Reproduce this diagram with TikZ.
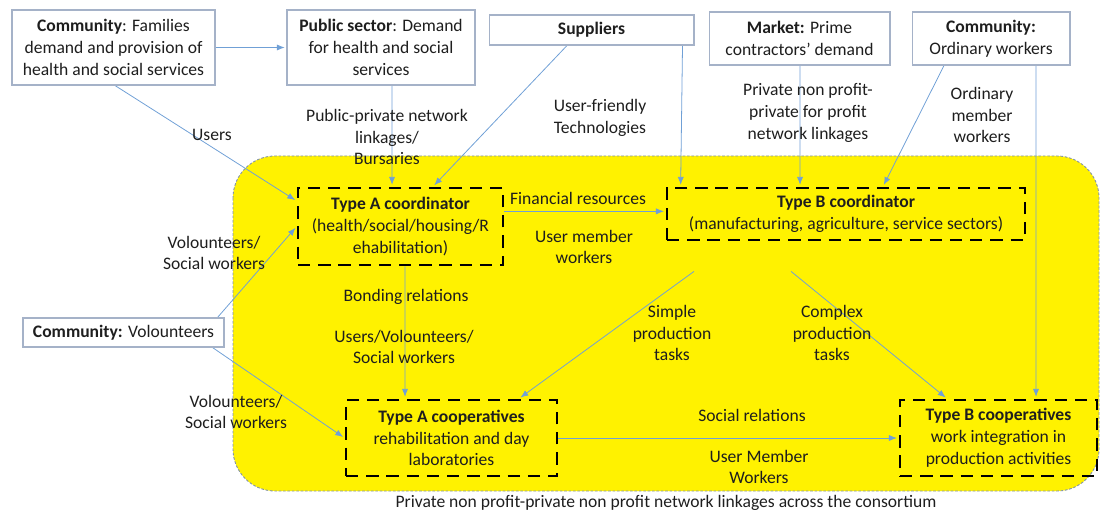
\documentclass[tikz,border=0pt]{standalone}
\usepackage{fontspec}
\setmainfont{Carlito}
\usetikzlibrary{arrows.meta,calc}
\pgfdeclarelayer{backlayer}
\pgfdeclarelayer{edgelayer}
\pgfdeclarelayer{nodelayer}
\pgfsetlayers{backlayer,edgelayer,nodelayer,main}
\definecolor{linkblue}{RGB}{112,160,214}
\definecolor{boxgrey}{RGB}{165,178,200}
\definecolor{rimgrey}{RGB}{128,145,170}
\definecolor{inkgrey}{RGB}{30,30,30}
\tikzstyle{link}=[draw=linkblue, line width=0.45pt, -{Latex[length=4.5pt,width=3.5pt]}, shorten >=1pt]
\tikzstyle{actor}=[rectangle, draw=boxgrey, fill=white, line width=0.6pt, align=center, inner sep=0pt]
\tikzstyle{unit}=[rectangle, draw=black, line width=1.6pt, dash pattern=on 7pt off 4.5pt, align=center, inner sep=0pt]
\tikzstyle{tag}=[align=center, inner sep=0pt]
\tikzstyle{zone}=[fill=yellow, draw=rimgrey, line width=0.5pt, dash pattern=on 1.5pt off 1pt, rounded corners=0.84cm]

\begin{document}
\begin{tikzpicture}[x=0.02cm, y=-0.02cm, every node/.style={font=\fontsize{10pt}{12.4pt}\selectfont, text=inkgrey}]
			\useasboundingbox (0,0) rectangle (1101,513);
			\begin{pgfonlayer}{backlayer}
			\draw [style=zone] (233,156) rectangle (1099,491);
			\end{pgfonlayer}
			\begin{pgfonlayer}{nodelayer}
			\node [style=actor, minimum width=4.06cm, minimum height=1.5cm] (families) at (113.5,47.5) {\textbf{Community}: Families\\demand and provision of\\health and social services};
			\node [style=actor, minimum width=3.76cm, minimum height=1.5cm] (public) at (381,47.5) {\textbf{Public sector}: Demand\\for health and social\\services};
			\node [style=actor, minimum width=4.1cm, minimum height=0.6cm] (suppliers) at (591.5,30) {\textbf{Suppliers}};
			\node [style=actor, minimum width=3.62cm, minimum height=1.06cm] (market) at (799.5,38.5) {\textbf{Market:} Prime\\contractors’ demand};
			\node [style=actor, minimum width=3.16cm, minimum height=1.06cm] (ordinary) at (991,38.5) {\textbf{Community:}\\Ordinary workers};
			\node [style=actor, minimum width=4.02cm, minimum height=0.58cm] (volbox) at (123.5,332.5) {\textbf{Community:} Volounteers};
			\node [style=unit, minimum width=4.1cm, minimum height=1.54cm] (coordA) at (400.5,226.5) {\textbf{Type A coordinator}\\(health/social/housing/R\\ehabilitation)};
			\node [style=unit, minimum width=7.16cm, minimum height=1.04cm] (coordB) at (846,214) {\textbf{Type B coordinator}\\(manufacturing, agriculture, service sectors)};
			\node [style=unit, minimum width=4.22cm, minimum height=1.52cm] (coopA) at (451.5,438) {\textbf{Type A cooperatives}\\rehabilitation and day\\laboratories};
			\node [style=unit, minimum width=3.94cm, minimum height=1.52cm] (coopB) at (998.5,438) {\textbf{Type B cooperatives}\\work integration in\\production activities};
			\node [style=tag] (users) at (212,135) {Users};
			\node [style=tag] (bursaries) at (387,137) {Public-private network\\linkages/\\Bursaries};
			\node [style=tag] (techno) at (600,118) {User-friendly\\Technologies};
			\node [style=tag] (linkages) at (808,113) {Private non profit-\\private for profit\\network linkages};
			\node [style=tag] (members) at (982,115) {Ordinary\\member\\workers};
			\node [style=tag] (finance) at (578,198) {Financial resources};
			\node [style=tag] (usermem) at (584,247) {User member\\workers};
			\node [style=tag] (volA) at (214,253) {Volounteers/\\Social workers};
			\node [style=tag] (bonding) at (406,297) {Bonding relations};
			\node [style=tag] (uservol) at (404,347) {Users/Volounteers/\\Social workers};
			\node [style=tag] (simple) at (672,333) {Simple\\production\\tasks};
			\node [style=tag] (complex) at (832,333) {Complex\\production\\tasks};
			\node [style=tag] (volB) at (236,412) {Volounteers/\\Social workers};
			\node [style=tag] (social) at (752,415) {Social relations};
			\node [style=tag] (usermemB) at (759,467) {User Member\\Workers};
			\node [style=tag] (caption) at (666,503) {Private non profit-private non profit network linkages across the consortium};
			\end{pgfonlayer}
			\begin{pgfonlayer}{edgelayer}
			\coordinate (fin) at ($(coordA.north east)!0.31!(coordA.south east)$);
			\draw [style=link] (families) to (public);
			\draw [style=link] ([xshift=0.03cm]families.south) to ($(coordA.north west)!0.18!(coordA.south west)$);
			\draw [style=link] ([xshift=0.22cm]public.south) to ([xshift=-0.17cm]coordA.north);
			\draw [style=link] ([xshift=-0.49cm]suppliers.south) to ([xshift=0.65cm]coordA.north);
			\draw [style=link] ([xshift=-0.24cm]suppliers.south east) to ([xshift=0.3cm]coordB.north west);
			\draw [style=link] ([xshift=0.01cm]market.south) to ([xshift=-0.92cm]coordB.north);
			\draw [style=link] ([xshift=-0.94cm]ordinary.south) to ([xshift=0.74cm]coordB.north);
			\draw [style=link] ([xshift=0.9cm]ordinary.south) to ([xshift=0.75cm]coopB.north);
			\draw [style=link] ([xshift=-0.14cm]volbox.north east) to (coordA.west);
			\draw [style=link] ([xshift=-0.24cm]volbox.south east) to (coopA.west);
			\draw [style=link] (fin) to (fin -| coordB.west);
			\draw [style=link] ([xshift=0.09cm]coordA.south) to ([xshift=-0.93cm]coopA.north);
			\draw [style=link] ([xshift=-3.04cm,yshift=-0.6cm]coordB.south) to ([xshift=1.35cm]coopA.north);
			\draw [style=link] ([xshift=-1.1cm,yshift=-0.6cm]coordB.south) to ([xshift=-1.03cm]coopB.north);
			\draw [style=link] (coopA) to (coopB);
			\end{pgfonlayer}
\end{tikzpicture}
\end{document}
